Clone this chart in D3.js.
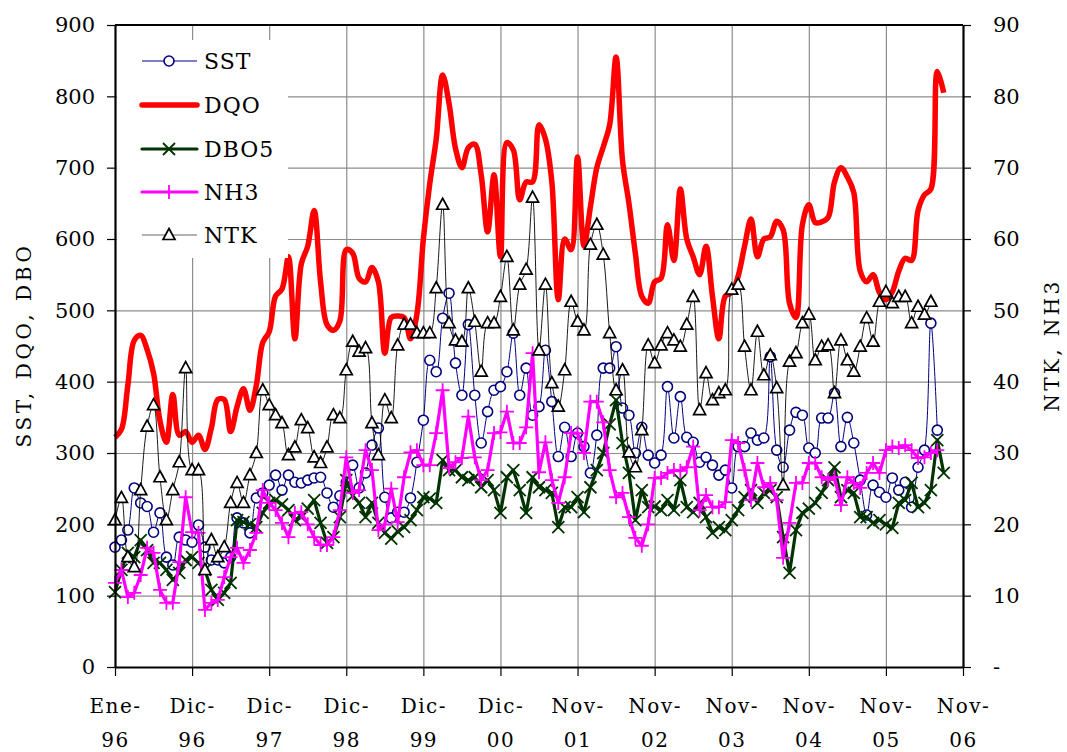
<!DOCTYPE html>
<html><head><meta charset="utf-8">
<script src="https://cdn.jsdelivr.net/npm/d3@7"></script>
<style>
body{margin:0;background:#fff}
svg{display:block}
text{font-family:"DejaVu Serif","Liberation Serif",serif;fill:#000}
</style>
</head><body>
<svg id="c" width="1067" height="752"></svg>
<script>
// ---------- data ----------
const sampleIndex = d3.range(130); // sample number along the category axis
const xTickLabels = ["Ene-96","Dic-96","Dic-97","Dic-98","Dic-99","Dic-00","Nov-01","Nov-02","Nov-03","Nov-04","Nov-05","Nov-06"];
const leftTicks = [0,100,200,300,400,500,600,700,800,900];
const rightTicks = [0,10,20,30,40,50,60,70,80,90];
const seriesNames = ["SST","DQO","DBO5","NH3","NTK"];

const sst = [168,178,192,251,230,225,189,216,154,143,
182,178,175,199,168,150,150,146,154,209,
202,188,237,244,255,269,248,269,259,258,
262,265,266,244,224,240,259,283,251,272,
311,335,238,209,217,217,237,287,346,430,
414,489,524,426,381,480,381,314,358,388,
393,414,468,381,419,353,365,444,372,295,
336,295,328,309,272,325,419,419,449,363,
353,300,336,297,286,297,393,321,379,322,
315,287,294,283,269,276,251,309,309,328,
318,321,435,304,280,332,357,353,307,300,
349,349,384,309,350,314,262,213,255,245,
238,265,248,259,224,280,304,482,332,null];

const dqo = [322,333,395,458,465,445,412,345,315,382,
325,330,315,325,305,335,375,375,330,365,
390,360,395,455,470,520,530,575,460,565,
590,640,540,480,472,485,585,580,545,540,
560,540,440,490,492,490,460,495,600,678,
740,830,790,727,700,728,733,690,610,690,
575,735,725,655,680,680,760,740,680,515,
600,585,715,590,645,700,729,760,855,710,
650,580,520,510,540,545,620,570,670,600,
575,550,590,520,460,520,525,548,590,628,
575,600,603,625,613,510,490,620,648,623,
624,630,680,700,687,665,555,540,550,525,
515,526,555,573,570,640,662,670,835,805];

const dbo5 = [105,136,160,154,178,164,146,146,136,122,
132,150,154,146,136,108,94,104,118,206,
203,200,196,216,230,234,228,220,206,210,
222,234,202,174,182,210,262,240,230,210,
230,202,188,180,190,196,206,220,238,236,
230,290,276,276,266,262,266,252,262,248,
216,266,276,248,216,266,252,248,244,196,
224,224,238,217,252,276,300,340,374,314,
272,206,248,224,225,220,234,220,262,224,
217,230,210,188,196,192,206,220,238,248,
230,244,248,238,182,132,192,216,222,230,
244,262,280,238,248,244,210,210,202,206,
200,195,230,234,258,224,230,248,318,272];

const nh3 = [11.8,13.6,9.8,10.4,12.9,16.7,16.0,10.8,9.0,9.0,
14.7,23.8,18.9,18.8,8.0,9.0,9.4,12.6,15.4,16.7,
14.6,16.4,18.8,24.8,23.0,22.0,20.2,18.2,21.6,21.7,
20.0,18.2,17.1,17.1,18.2,22.0,29.4,24.4,24.8,30.4,
27.6,19.2,20.0,25.0,20.3,26.6,30.1,30.4,28.3,28.3,
32.8,38.8,27.9,28.7,29.3,35.1,29.4,26.2,27.6,32.8,
32.9,35.8,31.4,31.4,33.6,44.0,27.3,31.5,26.2,23.0,
26.6,32.8,32.8,30.0,37.2,37.2,34.3,27.6,23.8,24.4,
21.0,18.1,17.0,20.0,26.5,26.5,27.2,27.6,27.5,28.0,
30.9,22.0,24.1,22.4,22.4,23.1,31.8,31.4,27.6,23.4,
28.6,25.2,25.8,23.4,15.3,20.2,25.8,25.8,28.6,28.6,
26.6,26.2,26.6,22.7,26.6,25.8,25.1,27.2,28.6,27.2,
30.4,30.9,30.7,31.1,30.4,29.3,29.4,30.0,30.4,null];

const ntk = [20.6,23.7,15.4,14.0,24.8,33.7,36.7,26.6,20.6,24.8,
28.7,41.9,27.6,27.6,13.6,17.8,15.4,16.8,23.0,25.8,
23.0,26.9,30.0,38.8,36.7,35.3,34.2,29.7,30.8,34.6,
33.5,29.4,28.6,30.8,35.3,34.9,41.6,45.6,44.2,44.7,
34.2,29.7,37.4,34.9,45.1,48.0,48.0,46.8,46.8,46.8,
53.1,64.8,48.2,45.8,45.6,53.1,48.4,41.4,48.2,48.2,
51.9,57.5,47.2,53.6,55.7,65.8,44.4,53.6,39.8,36.5,
41.6,51.2,48.4,47.2,59.2,62.0,57.8,46.8,38.8,41.6,
30.1,28.0,33.2,45.1,42.6,45.1,46.8,45.8,44.9,48.0,
51.9,36.0,41.2,37.4,38.4,38.8,52.9,53.6,44.9,38.8,
47.0,40.9,43.7,39.1,25.5,42.8,44.0,48.2,49.4,43.0,
44.9,45.1,38.4,45.8,43.0,41.4,44.9,48.9,45.6,51.2,
52.6,51.0,51.9,51.9,48.2,50.5,49.4,51.2,null,null];

// ---------- layout ----------
const P = {l:115, r:963, t:25, b:667};
const svg = d3.select("#c");
const x = d3.scaleLinear().domain([0,132]).range([P.l,P.r]);
const yL = d3.scaleLinear().domain([0,900]).range([P.b,P.t]);
const yR = d3.scaleLinear().domain([0,90]).range([P.b,P.t]);
const xTickIdx = xTickLabels.map((d,i)=>i*12);

// grid
svg.append("g").attr("transform",`translate(0,${P.b})`)
  .call(d3.axisBottom(x).tickValues(xTickIdx.slice(1,-1)).tickSize(-(P.b-P.t)).tickFormat(""))
  .call(g=>{g.select(".domain").remove();g.selectAll("line").attr("stroke","#8c8c8c").attr("stroke-width",1.2);});
svg.append("g").attr("transform",`translate(${P.l},0)`)
  .call(d3.axisLeft(yL).tickValues(leftTicks.slice(1,-1)).tickSize(-(P.r-P.l)).tickFormat(""))
  .call(g=>{g.select(".domain").remove();g.selectAll("line").attr("stroke","#8c8c8c").attr("stroke-width",1.2);});

// series
const colors = {SST:"#000080",DQO:"#ff0000",DBO5:"#003300",NH3:"#ff00ff",NTK:"#000000"};
function path(arr, ys, curve){
  return d3.line().defined(d=>d!=null).x((d,i)=>x(sampleIndex[i])).y(d=>ys(d)).curve(curve)(arr);
}
function pts(arr){ return arr.map((v,i)=>({i:sampleIndex[i],v})).filter(d=>d.v!=null); }
const markX = "M-6,-6L6,6M-6,6L6,-6";
const markPlus = "M-7,0L7,0M0,-7L0,7";
const markTri = "M0,-6.5L6,4.5L-6,4.5Z";

// SST
svg.append("path").attr("d",path(sst,yL,d3.curveCatmullRom)).attr("fill","none").attr("stroke",colors.SST).attr("stroke-width",1);
svg.append("g").selectAll("circle").data(pts(sst)).join("circle")
  .attr("cx",d=>x(d.i)).attr("cy",d=>yL(d.v)).attr("r",5)
  .attr("fill","#fff").attr("stroke",colors.SST).attr("stroke-width",1.6);
// DQO
svg.append("path").attr("d",path(dqo,yL,d3.curveCatmullRom)).attr("fill","none").attr("stroke",colors.DQO).attr("stroke-width",5.5).attr("stroke-linejoin","round");
// DBO5
svg.append("path").attr("d",path(dbo5,yL,d3.curveLinear)).attr("fill","none").attr("stroke",colors.DBO5).attr("stroke-width",3.2).attr("stroke-linejoin","round");
svg.append("g").selectAll("path").data(pts(dbo5)).join("path")
  .attr("transform",d=>`translate(${x(d.i)},${yL(d.v)})`).attr("d",markX)
  .attr("stroke",colors.DBO5).attr("stroke-width",1.8).attr("fill","none");
// NH3
svg.append("path").attr("d",path(nh3,yR,d3.curveLinear)).attr("fill","none").attr("stroke",colors.NH3).attr("stroke-width",3.2).attr("stroke-linejoin","round");
svg.append("g").selectAll("path").data(pts(nh3)).join("path")
  .attr("transform",d=>`translate(${x(d.i)},${yR(d.v)})`).attr("d",markPlus)
  .attr("stroke",colors.NH3).attr("stroke-width",1.8).attr("fill","none");
// NTK
svg.append("path").attr("d",path(ntk,yR,d3.curveCatmullRom)).attr("fill","none").attr("stroke",colors.NTK).attr("stroke-width",0.9);
svg.append("g").selectAll("path").data(pts(ntk)).join("path")
  .attr("transform",d=>`translate(${x(d.i)},${yR(d.v)})`).attr("d",markTri)
  .attr("stroke",colors.NTK).attr("stroke-width",1.7).attr("fill","#fff");

// frame / axes
const axLeft = svg.append("g").attr("transform",`translate(${P.l},0)`)
  .call(d3.axisLeft(yL).tickValues(leftTicks).tickSize(8).tickPadding(12).tickSizeOuter(0).tickFormat(d3.format("d")));
const axRight = svg.append("g").attr("transform",`translate(${P.r},0)`)
  .call(d3.axisRight(yR).tickValues(rightTicks).tickSize(8).tickPadding(22).tickSizeOuter(0).tickFormat(d=>d===0?"-":String(d)));
const axBottom = svg.append("g").attr("transform",`translate(0,${P.b})`)
  .call(d3.axisBottom(x).tickValues(xTickIdx).tickSize(9).tickSizeOuter(0).tickFormat((d,i)=>xTickLabels[i]));
[axLeft,axRight,axBottom].forEach(g=>{
  g.select(".domain").attr("stroke","#000").attr("stroke-width",2.2);
  g.selectAll(".tick line").attr("stroke","#000").attr("stroke-width",1.2);
  g.selectAll("text").attr("font-family","DejaVu Serif").attr("font-size",21).attr("fill","#000");
});
axBottom.selectAll(".tick text").each(function(){
  const s = d3.select(this).text(); const parts = s.split("-");
  const t = d3.select(this).text("").attr("y",0).attr("dy",null).attr("font-size",20).attr("letter-spacing","1.5px");
  t.append("tspan").attr("x",0).attr("y",46).text(parts[0]+"-");
  t.append("tspan").attr("x",0).attr("y",80).text(parts[1]);
});
// top border
svg.append("line").attr("x1",P.l).attr("x2",P.r).attr("y1",P.t).attr("y2",P.t).attr("stroke","#000").attr("stroke-width",2.2);

// axis titles
svg.append("text").attr("transform","translate(31,345) rotate(-90)").attr("text-anchor","middle")
  .attr("font-size",20).attr("letter-spacing","3.6px").text("SST, DQO, DBO");
svg.append("text").attr("transform","translate(1059,345) rotate(-90)").attr("text-anchor","middle")
  .attr("font-size",20).attr("letter-spacing","3.4px").text("NTK, NH3");

// legend
const lg = svg.append("g");
lg.append("rect").attr("x",117).attr("y",40).attr("width",171).attr("height",218).attr("fill","#fff");
const rowsY = [61,105,149,192,235];
seriesNames.forEach((n,k)=>{
  const yy = rowsY[k];
  const sw = {SST:1,DQO:5.5,DBO5:3.2,NH3:3.2,NTK:0.9}[n];
  lg.append("line").attr("x1",142).attr("x2",197).attr("y1",yy).attr("y2",yy)
    .attr("stroke",n==="NTK"?"#555":colors[n]).attr("stroke-width",sw).attr("stroke-linecap",n==="DQO"||n==="DBO5"||n==="NH3"?"round":"butt");
  if(n==="SST") lg.append("circle").attr("cx",169).attr("cy",yy).attr("r",5).attr("fill","#fff").attr("stroke",colors.SST).attr("stroke-width",1.6);
  if(n==="DBO5") lg.append("path").attr("transform",`translate(169,${yy})`).attr("d",markX).attr("stroke",colors.DBO5).attr("stroke-width",1.8);
  if(n==="NH3") lg.append("path").attr("transform",`translate(169,${yy})`).attr("d",markPlus).attr("stroke",colors.NH3).attr("stroke-width",1.8);
  if(n==="NTK") lg.append("path").attr("transform",`translate(169,${yy})`).attr("d",markTri).attr("stroke","#000").attr("stroke-width",1.7).attr("fill","#fff");
  lg.append("text").attr("x",204).attr("y",yy).attr("dy","0.36em").attr("font-size",22).attr("letter-spacing","1px").text(n);
});
</script>
</body></html>
